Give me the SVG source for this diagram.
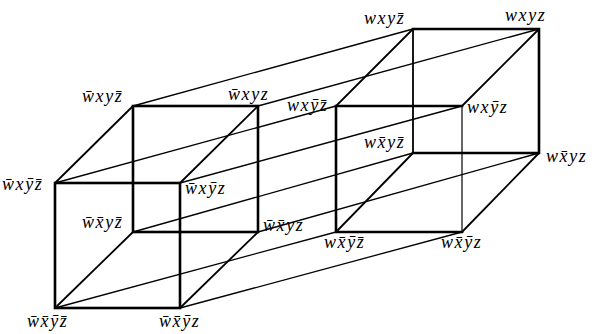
<svg xmlns="http://www.w3.org/2000/svg" width="592" height="334" viewBox="0 0 592 334">
<style>
.e{stroke:#000;stroke-width:2.6;fill:none;stroke-linecap:square}
.d{stroke:#000;stroke-width:1.8;fill:none}
.t{stroke:#000;stroke-width:1.2;fill:none}
.c{stroke:#000;stroke-width:1.3;fill:none}
.lb text{font-family:"Liberation Serif","DejaVu Serif",serif;font-style:italic;font-size:18px;letter-spacing:1.6px;fill:#000}
</style>
<rect width="592" height="334" fill="#fff"/>
<g id="connectors">
<line class="c" x1="55" y1="183" x2="336" y2="106"/>
<line class="c" x1="180" y1="183" x2="462" y2="106"/>
<line class="c" x1="55" y1="308" x2="336" y2="232"/>
<line class="c" x1="180" y1="308" x2="462" y2="232"/>
<line class="c" x1="133" y1="106" x2="413" y2="29"/>
<line class="c" x1="258" y1="106" x2="539" y2="29"/>
<line class="c" x1="133" y1="232" x2="413" y2="153"/>
<line class="c" x1="258" y1="232" x2="539" y2="153"/>
</g>
<g id="left-cube">
<rect class="e" x="55" y="183" width="125" height="125"/>
<rect class="e" x="133" y="106" width="125" height="126"/>
<line class="d" x1="55" y1="183" x2="133" y2="106"/>
<line class="d" x1="180" y1="183" x2="258" y2="106"/>
<line class="d" x1="55" y1="308" x2="133" y2="232"/>
<line class="d" x1="180" y1="308" x2="258" y2="232"/>
</g>
<g id="right-cube">
<polyline class="e" points="462,106 336,106 336,232 462,232"/>
<line class="t" x1="462" y1="106" x2="462" y2="232"/>
<polyline class="e" points="413,153 539,153 539,29 413,29"/>
<line class="d" x1="413" y1="29" x2="413" y2="153"/>
<line class="d" x1="336" y1="106" x2="413" y2="29"/>
<line class="d" x1="462" y1="106" x2="539" y2="29"/>
<line class="d" x1="336" y1="232" x2="413" y2="153"/>
<line class="d" x1="462" y1="232" x2="539" y2="153"/>
</g>
<g class="lb">
<g id="n-wbxyzb"><text x="82" y="102">w̄xyz̄</text></g>
<g id="n-wbxyz"><text x="228" y="100">w̄xyz</text></g>
<g id="n-wbxybzb"><text x="2" y="190">w̄xȳz̄</text></g>
<g id="n-wbxybz"><text x="185" y="194">w̄xȳz</text></g>
<g id="n-wbxbyzb"><text x="82" y="228">w̄x̄yz̄</text></g>
<g id="n-wbxbyz"><text x="263" y="231">w̄x̄yz</text></g>
<g id="n-wbxbybzb"><text x="27" y="327">w̄x̄ȳz̄</text></g>
<g id="n-wbxbybz"><text x="159" y="327">w̄x̄ȳz</text></g>
<g id="n-wxyzb"><text x="364" y="24">wxyz̄</text></g>
<g id="n-wxyz"><text x="505" y="21">wxyz</text></g>
<g id="n-wxybzb"><text x="287" y="111">wxȳz̄</text></g>
<g id="n-wxybz"><text x="467" y="113">wxȳz</text></g>
<g id="n-wxbyzb"><text x="364" y="148">wx̄yz̄</text></g>
<g id="n-wxbyz"><text x="546" y="162">wx̄yz</text></g>
<g id="n-wxbybzb"><text x="324" y="248">wx̄ȳz̄</text></g>
<g id="n-wxbybz"><text x="441" y="248">wx̄ȳz</text></g>
</g>
</svg>
